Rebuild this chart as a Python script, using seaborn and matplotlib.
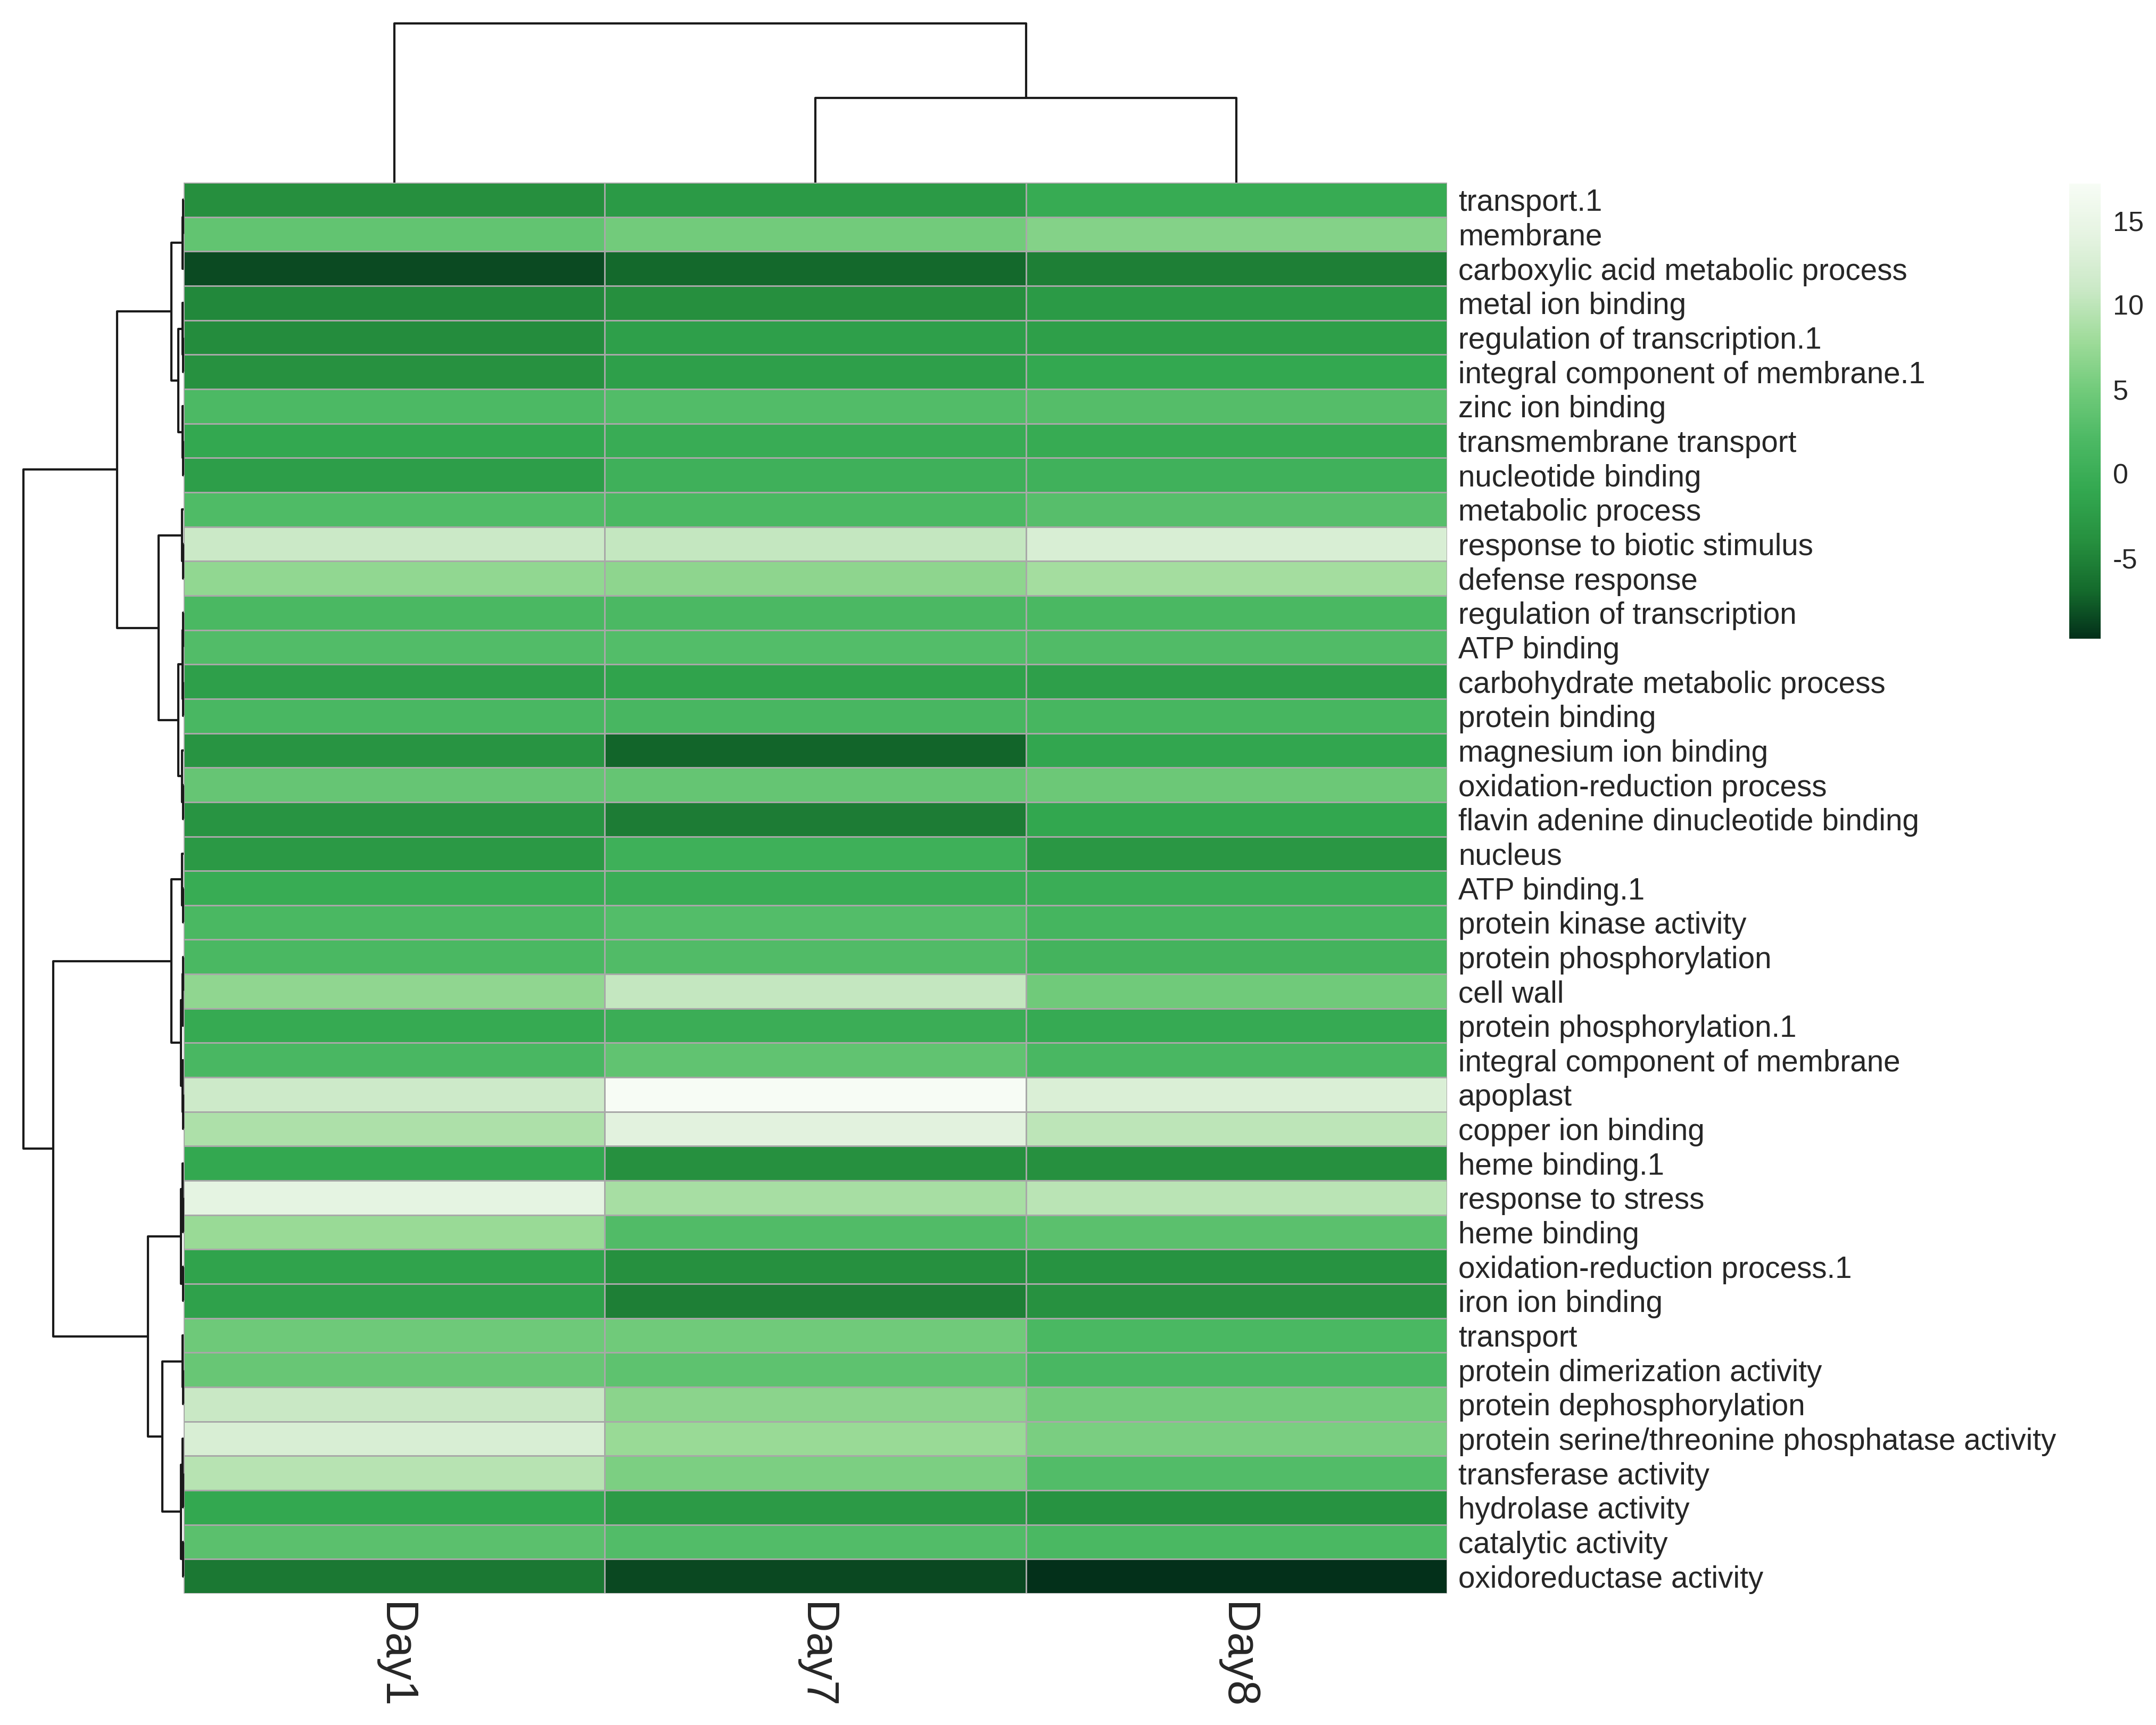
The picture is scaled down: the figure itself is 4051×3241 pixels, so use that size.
import numpy as np
import pandas as pd
import seaborn as sns
import matplotlib
matplotlib.use('Agg')
import matplotlib.pyplot as plt
from matplotlib.colors import LinearSegmentedColormap

# ---- data ----
terms = [
    "transport.1", "membrane", "carboxylic acid metabolic process", "metal ion binding",
    "regulation of transcription.1", "integral component of membrane.1", "zinc ion binding",
    "transmembrane transport", "nucleotide binding", "metabolic process",
    "response to biotic stimulus", "defense response", "regulation of transcription",
    "ATP binding", "carbohydrate metabolic process", "protein binding",
    "magnesium ion binding", "oxidation-reduction process",
    "flavin adenine dinucleotide binding", "nucleus", "ATP binding.1",
    "protein kinase activity", "protein phosphorylation", "cell wall",
    "protein phosphorylation.1", "integral component of membrane", "apoplast",
    "copper ion binding", "heme binding.1", "response to stress", "heme binding",
    "oxidation-reduction process.1", "iron ion binding", "transport",
    "protein dimerization activity", "protein dephosphorylation",
    "protein serine/threonine phosphatase activity", "transferase activity",
    "hydrolase activity", "catalytic activity", "oxidoreductase activity",
]
days = ["Day1", "Day7", "Day8"]

day1 = [-4.0, 3.7, -8.5, -4.6, -4.3, -3.8, 2.0, -1.0, -2.3, 2.3,
        11.0, 7.0, 1.8, 2.5, -2.0, 1.6, -3.5, 4.1, -3.5, -2.9,
        -0.4, 1.8, 1.7, 6.9, -0.7, 1.6, 11.2, 8.9, -1.0, 14.2,
        7.5, -1.6, -1.8, 4.7, 4.2, 10.8, 12.5, 9.6, -1.0, 3.2, -5.8]
day7 = [-2.8, 5.0, -7.0, -4.0, -2.0, -2.0, 2.5, -0.3, 0.5, 1.7,
        10.5, 6.8, 1.9, 2.6, -1.6, 1.5, -7.2, 4.0, -5.5, 0.4,
        -0.2, 2.6, 2.4, 10.5, 0.0, 3.6, 17.2, 13.8, -3.9, 8.5,
        2.4, -3.9, -5.3, 4.8, 3.4, 6.6, 7.6, 5.7, -2.7, 2.5, -8.6]
day8 = [-0.5, 6.2, -5.3, -2.8, -2.2, -1.0, 2.7, -0.5, 0.6, 2.9,
        12.5, 8.3, 1.8, 2.4, -2.0, 1.4, -1.2, 4.5, -1.1, -3.1,
        -0.2, 1.2, 1.0, 4.8, -0.6, 1.6, 12.8, 10.0, -3.9, 9.8,
        3.2, -3.6, -3.8, 1.8, 1.6, 5.0, 5.5, 2.5, -3.6, 1.8, -9.8]

# row clustering (left, right, merge height), leaves are row indices
A1 = ((0, 1, 0.4), 2, 0.8)
A2 = ((3, (4, 5, 0.3), 0.6), (6, (7, 8, 0.4), 0.8), 4)
B1 = (9, (10, 11, 0.5), 1.0)
B2 = (((12, 13, 0.4), (14, 15, 0.5), 0.9), (16, (17, 18, 0.4), 1.0), 4)
C1 = (19, (20, 21, 0.5), 1.0)
C2 = (((22, 23, 0.4), 24, 0.7), (25, (26, 27, 0.5), 0.9), 2)
D1 = ((28, (29, 30, 0.4), 0.8), (31, 32, 0.5), 2)
D2a = (33, (34, 35, 0.4), 0.9)
D2b = ((36, (37, 38, 0.4), 0.8), (39, 40, 0.5), 2)
row_tree = (((A1, A2, 9), (B1, B2, 18), 48),
            ((C1, C2, 9), (D1, (D2a, D2b, 15.5), 26), 94.5),
            116)
# column clustering
col_tree = (0, (1, 2, 61), 115)

df = pd.DataFrame({"Day1": day1, "Day7": day7, "Day8": day8}, index=terms)[days]


def walk(node, segs):
    if isinstance(node, int):
        return node + 0.5, 0.0
    left, right, h = node
    pl, hl = walk(left, segs)
    pr, hr = walk(right, segs)
    segs.append(([hl, h, h, hr], [pl, pl, pr, pr]))
    return (pl + pr) / 2, h


sns.set_style("white")
plt.rcParams['font.family'] = ['Liberation Sans', 'DejaVu Sans']
plt.rcParams['axes.unicode_minus'] = False

cmap = LinearSegmentedColormap.from_list("grn", [
    (0.0, "#03301a"), (2.8 / 27, "#146a2c"), (5.8 / 27, "#26903f"),
    (8.8 / 27, "#33a850"), (11.8 / 27, "#4cb964"), (14.8 / 27, "#72cb7b"),
    (17.8 / 27, "#a0dc9b"), (20.8 / 27, "#cbe9c7"), (23.8 / 27, "#e4f3e0"),
    (1.0, "#f7fcf5")])

W, H = 4051, 3241
fig = plt.figure(figsize=(W / 300, H / 300), dpi=300)
hm_l, hm_r, hm_t, hm_b = 345, 2719, 343, 2994
ax = fig.add_axes([hm_l / W, 1 - hm_b / H, (hm_r - hm_l) / W, (hm_b - hm_t) / H])
cax = fig.add_axes([3888 / W, 1 - 1200 / H, 59 / W, 855 / H])
axr = fig.add_axes([44 / W, 1 - hm_b / H, (hm_l - 44) / W, (hm_b - hm_t) / H])
axc = fig.add_axes([hm_l / W, 1 - hm_t / H, (hm_r - hm_l) / W, (hm_t - 44) / H])

sns.heatmap(df, ax=ax, cmap=cmap, linewidths=0.6, linecolor="#a8a8a8",
            cbar_ax=cax, cbar_kws={"ticks": [-5, 0, 5, 10, 15]})

ax.yaxis.tick_right()
ax.set_yticks(np.arange(len(terms)) + 0.5)
ax.set_yticklabels(terms, rotation=0, fontsize=13.6, ha="left")
ax.set_xticklabels(days, rotation=270, fontsize=20.5, va="top", ha="center")
ax.tick_params(axis="y", length=0, pad=5)
ax.tick_params(axis="x", length=0, pad=4)
ax.set_xlabel("")
ax.set_ylabel("")

cax.tick_params(length=0, labelsize=12.5, pad=5.5)
ax.collections[0].colorbar.outline.set_visible(False)

# row dendrogram
segs = []
walk(row_tree, segs)
for xs, ys in segs:
    axr.plot(xs, ys, color="#1a1a1a", lw=1.0, clip_on=False, solid_capstyle="butt")
axr.set_xlim(row_tree[2], 0)
axr.set_ylim(len(terms), 0)
axr.axis("off")

# column dendrogram
segs = []
walk(col_tree, segs)
for hs, ps in segs:
    axc.plot(ps, hs, color="#1a1a1a", lw=1.0, clip_on=False, solid_capstyle="butt")
axc.set_xlim(0, len(days))
axc.set_ylim(0, col_tree[2])
axc.axis("off")

fig.savefig("out.png", dpi=300, facecolor="white")
